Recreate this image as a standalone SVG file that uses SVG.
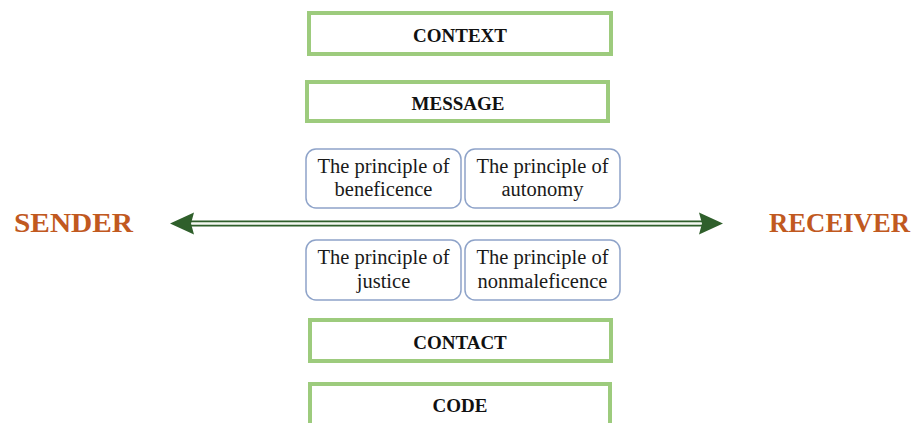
<svg xmlns="http://www.w3.org/2000/svg" width="913" height="423" viewBox="0 0 913 423">
  <style>
    .bar { fill: #ffffff; stroke: #9dcb7d; stroke-width: 4; }
    .bar-label { font-family: "Liberation Serif", "Times New Roman", serif; font-weight: bold; font-size: 19px; fill: #111111; text-anchor: middle; }
    .principle { fill: #ffffff; stroke: #8ea3c9; stroke-width: 1.5; }
    .principle-label { font-family: "Liberation Serif", "Times New Roman", serif; font-size: 20.5px; fill: #1a1a1a; text-anchor: middle; }
    .party { font-family: "Liberation Serif", "Times New Roman", serif; font-weight: bold; font-size: 27px; fill: #c1591f; }
    .shaft-outer { stroke: #2f5f2b; stroke-width: 6; fill: none; }
    .shaft-inner { stroke: #f4f8f2; stroke-width: 2.4; fill: none; }
    .head { fill: #2f5f2b; }
  </style>

  <rect width="913" height="423" fill="#ffffff"/>

  <!-- communication channel between the two parties -->
  <g id="connectors">
    <line class="shaft-outer" x1="190" y1="223.5" x2="704" y2="223.5"/>
    <line class="shaft-inner" x1="190" y1="223.5" x2="704" y2="223.5"/>
    <polygon class="head" points="170,223.5 194,212.5 191,223.5 194,234.5"/>
    <polygon class="head" points="723,223.5 699,212.5 702,223.5 699,234.5"/>
  </g>

  <g id="sender">
    <text class="party" x="14" y="232" textLength="119" lengthAdjust="spacingAndGlyphs">SENDER</text>
  </g>
  <g id="receiver">
    <text class="party" x="769" y="232" textLength="141" lengthAdjust="spacingAndGlyphs">RECEIVER</text>
  </g>

  <g id="context">
    <rect class="bar" x="309" y="13" width="302" height="41"/>
    <text class="bar-label" x="460" y="42">CONTEXT</text>
  </g>

  <g id="message">
    <rect class="bar" x="307" y="82" width="301" height="39"/>
    <text class="bar-label" x="458" y="110">MESSAGE</text>
  </g>

  <g id="beneficence">
    <rect class="principle" x="306" y="149" width="155" height="59" rx="10"/>
    <text class="principle-label" x="383.5" y="173">The principle of</text>
    <text class="principle-label" x="383.5" y="196">beneficence</text>
  </g>

  <g id="autonomy">
    <rect class="principle" x="465" y="149" width="155" height="59" rx="10"/>
    <text class="principle-label" x="542.5" y="173">The principle of</text>
    <text class="principle-label" x="542.5" y="196">autonomy</text>
  </g>

  <g id="justice">
    <rect class="principle" x="306" y="240" width="155" height="60" rx="10"/>
    <text class="principle-label" x="383.5" y="264">The principle of</text>
    <text class="principle-label" x="383.5" y="288">justice</text>
  </g>

  <g id="nonmaleficence">
    <rect class="principle" x="465" y="240" width="155" height="60" rx="10"/>
    <text class="principle-label" x="542.5" y="264">The principle of</text>
    <text class="principle-label" x="542.5" y="288">nonmaleficence</text>
  </g>

  <g id="contact">
    <rect class="bar" x="310" y="320" width="301" height="41"/>
    <text class="bar-label" x="460" y="349">CONTACT</text>
  </g>

  <g id="code">
    <rect class="bar" x="310" y="384" width="300" height="44"/>
    <text class="bar-label" x="460" y="412">CODE</text>
  </g>
</svg>
